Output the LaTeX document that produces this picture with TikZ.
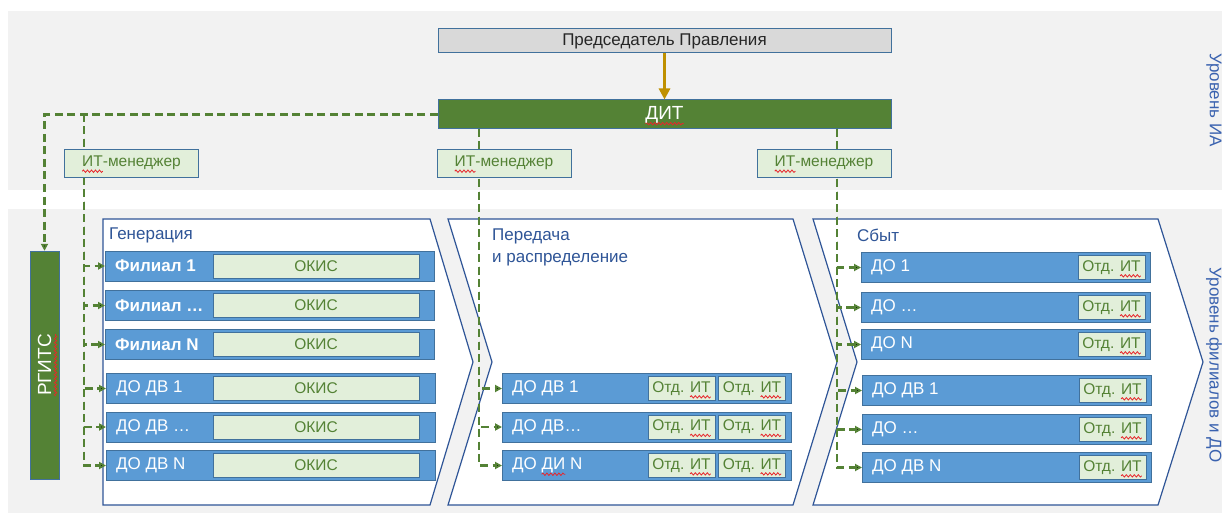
\documentclass[tikz,border=0pt]{standalone}
\usepackage{fontspec}
\setmainfont{Liberation Sans}
\usetikzlibrary{arrows.meta,positioning,decorations.pathmorphing}

\definecolor{bandgray}{HTML}{F2F2F2}
\definecolor{headgray}{HTML}{D9D9D9}
\definecolor{boxline}{HTML}{41719C}
\definecolor{ditgreen}{HTML}{548235}
\definecolor{lightgreen}{HTML}{E2EFDA}
\definecolor{barblue}{HTML}{5B9BD5}
\definecolor{chevblue}{HTML}{2F5597}
\definecolor{levelblue}{HTML}{3A62AF}
\definecolor{gold}{HTML}{BF9000}
\definecolor{squig}{HTML}{E8262B}

% red wavy underline as in a spell-checked slide
\newlength\squigwd
\newcommand\spellerr[1]{\settowidth\squigwd{#1}\rlap{\tikz[baseline=0pt,overlay]\draw[squig,line width=0.8pt,decorate,decoration={snake,amplitude=1.2pt,segment length=4pt}] (0pt,-4.5pt) -- (\squigwd,-4.5pt);}#1}

\begin{document}
\begin{tikzpicture}[x=1pt,y=-1pt,
    font=\fontsize{17}{22}\selectfont,
    small/.style={font=\fontsize{15.5}{18}\selectfont},
    large/.style={font=\fontsize{19}{22}\selectfont},
    chev/.style={draw=chevblue,fill=white,line width=1.2pt},
    stage/.style={text=chevblue,inner sep=0pt,align=left},
    head/.style={draw=boxline,line width=1pt,minimum width=453,inner sep=0pt},
    itman/.style={small,draw=boxline,fill=lightgreen,text=ditgreen,minimum width=134,minimum height=28,inner sep=0pt},
    bar/.style={draw=boxline,fill=barblue,anchor=west,minimum width=329,minimum height=30,inner sep=0pt},
    rowtext/.style={text=white,inner sep=0pt},
    okis/.style={small,draw=boxline,fill=lightgreen,text=ditgreen,minimum width=206,minimum height=24,inner sep=0pt},
    otd/.style={small,draw=boxline,fill=lightgreen,text=ditgreen,minimum width=67,minimum height=24,inner sep=0pt},
    itlink/.style={draw=ditgreen,line width=2.2pt,dash pattern=on 8pt off 4.5pt,-{Triangle[length=7pt,width=7pt]}},
    level/.style={text=levelblue,rotate=-90,inner sep=0pt}]

    \useasboundingbox (0,0) rectangle (1222,513);
    \fill[bandgray] (8,11) rectangle (1222,190);
    \fill[bandgray] (8,209) rectangle (1222,513);

    \draw[chev] (103,219) -- (430,219) -- (473,362) -- (430,505) -- (103,505) -- cycle;
    \draw[chev] (448,219) -- (793,219) -- (837,362) -- (793,505) -- (448,505) -- (492,362) -- cycle;
    \draw[chev] (813,219) -- (1158,219) -- (1203,362) -- (1158,505) -- (813,505) -- (857,362) -- cycle;

    \node[stage,anchor=west] at (109,235) (gen) {Генерация};
    \node[stage,anchor=north west] at (492,228.5) (per) {Передача\\и распределение};
    \node[stage,anchor=west] at (857,235) (sbyt) {Сбыт};

    \node[level] at (1214,100) (lvlia) {Уровень ИА};
    \node[level] at (1214,365) (lvlfil) {Уровень филиалов и ДО};

    \node[head,fill=headgray,text=black!85,minimum height=24] at (664.5,41) (chair) {Председатель Правления};
    \node[head,large,fill=ditgreen,text=white,minimum height=29] at (664.5,114.5) (dit) {\spellerr{ДИТ}};
    \draw[line width=3pt,draw=gold,-{Triangle[length=11pt,width=11pt]}] (chair) -- (dit);

    \node[draw=boxline,fill=ditgreen,minimum width=29,minimum height=228,inner sep=0pt] at (44.5,365) (rgits) {};
    \node[large,rotate=90,text=white,inner sep=0pt] at (rgits) (rgitsname) {\spellerr{РГИТС}};

    % generation
    \node[bar] at (105,266) (f1) {};
    \node[rowtext,right=10pt of f1.west] (f1n) {\bfseries Филиал 1};
    \node[okis] at (316,266) (f1k) {ОКИС};
    \node[bar] at (105,305.5) (f2) {};
    \node[rowtext,right=10pt of f2.west] (f2n) {\bfseries Филиал …};
    \node[okis] at (316,305.5) (f2k) {ОКИС};
    \node[bar] at (105,344.5) (f3) {};
    \node[rowtext,right=10pt of f3.west] (f3n) {\bfseries Филиал N};
    \node[okis] at (316,344.5) (f3k) {ОКИС};
    \node[bar] at (106,388.5) (g1) {};
    \node[rowtext,right=10pt of g1.west] (g1n) {ДО ДВ 1};
    \node[okis] at (316,388.5) (g1k) {ОКИС};
    \node[bar] at (106,427) (g2) {};
    \node[rowtext,right=10pt of g2.west] (g2n) {ДО ДВ …};
    \node[okis] at (316,427) (g2k) {ОКИС};
    \node[bar] at (106,465.5) (g3) {};
    \node[rowtext,right=10pt of g3.west] (g3n) {ДО ДВ N};
    \node[okis] at (316,465.5) (g3k) {ОКИС};

    % transmission and distribution
    \node[bar,minimum width=289] at (502,388.5) (p1) {};
    \node[rowtext,right=10pt of p1.west] (p1n) {ДО ДВ 1};
    \node[otd] at (681.5,388.5) (p1a) {Отд. \spellerr{ИТ}};
    \node[otd] at (752,388.5) (p1b) {Отд. \spellerr{ИТ}};
    \node[bar,minimum width=289] at (502,427) (p2) {};
    \node[rowtext,right=10pt of p2.west] (p2n) {ДО ДВ…};
    \node[otd] at (681.5,427) (p2a) {Отд. \spellerr{ИТ}};
    \node[otd] at (752,427) (p2b) {Отд. \spellerr{ИТ}};
    \node[bar,minimum width=289] at (502,465.5) (p3) {};
    \node[rowtext,right=10pt of p3.west] (p3n) {ДО \spellerr{ДИ} N};
    \node[otd] at (681.5,465.5) (p3a) {Отд. \spellerr{ИТ}};
    \node[otd] at (752,465.5) (p3b) {Отд. \spellerr{ИТ}};

    % sales
    \node[bar,minimum width=289] at (861,267.5) (s1) {};
    \node[rowtext,right=10pt of s1.west] (s1n) {ДО 1};
    \node[otd] at (1111.5,267.5) (s1a) {Отд. \spellerr{ИТ}};
    \node[bar,minimum width=289] at (861,307.5) (s2) {};
    \node[rowtext,right=10pt of s2.west] (s2n) {ДО …};
    \node[otd] at (1111.5,307.5) (s2a) {Отд. \spellerr{ИТ}};
    \node[bar,minimum width=289] at (861,344.5) (s3) {};
    \node[rowtext,right=10pt of s3.west] (s3n) {ДО N};
    \node[otd] at (1111.5,344.5) (s3a) {Отд. \spellerr{ИТ}};
    \node[bar,minimum width=289] at (862,390.5) (s4) {};
    \node[rowtext,right=10pt of s4.west] (s4n) {ДО ДВ 1};
    \node[otd] at (1112.5,390.5) (s4a) {Отд. \spellerr{ИТ}};
    \node[bar,minimum width=289] at (862,429.5) (s5) {};
    \node[rowtext,right=10pt of s5.west] (s5n) {ДО …};
    \node[otd] at (1112.5,429.5) (s5a) {Отд. \spellerr{ИТ}};
    \node[bar,minimum width=289] at (862,467.5) (s6) {};
    \node[rowtext,right=10pt of s6.west] (s6n) {ДО ДВ N};
    \node[otd] at (1112.5,467.5) (s6a) {Отд. \spellerr{ИТ}};

    % IT links from the department
    \coordinate (genbus) at (84,114);
    \coordinate (perbus) at (479,129);
    \coordinate (sbytbus) at (837,129);

    \draw[itlink] (dit.west) -| (rgits.north);
    \draw[itlink] (genbus) |- (f1.west);
    \draw[itlink] (genbus) |- (f2.west);
    \draw[itlink] (genbus) |- (f3.west);
    \draw[itlink] (genbus) |- (g1.west);
    \draw[itlink] (genbus) |- (g2.west);
    \draw[itlink] (genbus) |- (g3.west);
    \draw[itlink] (perbus) |- (p1.west);
    \draw[itlink] (perbus) |- (p2.west);
    \draw[itlink] (perbus) |- (p3.west);
    \draw[itlink] (sbytbus) |- (s1.west);
    \draw[itlink] (sbytbus) |- (s2.west);
    \draw[itlink] (sbytbus) |- (s3.west);
    \draw[itlink] (sbytbus) |- (s4.west);
    \draw[itlink] (sbytbus) |- (s5.west);
    \draw[itlink] (sbytbus) |- (s6.west);

    \node[itman] at (131.5,163) (m1) {\spellerr{ИТ}-менеджер};
    \node[itman] at (504,163) (m2) {\spellerr{ИТ}-менеджер};
    \node[itman] at (824,163) (m3) {\spellerr{ИТ}-менеджер};

\end{tikzpicture}
\end{document}
